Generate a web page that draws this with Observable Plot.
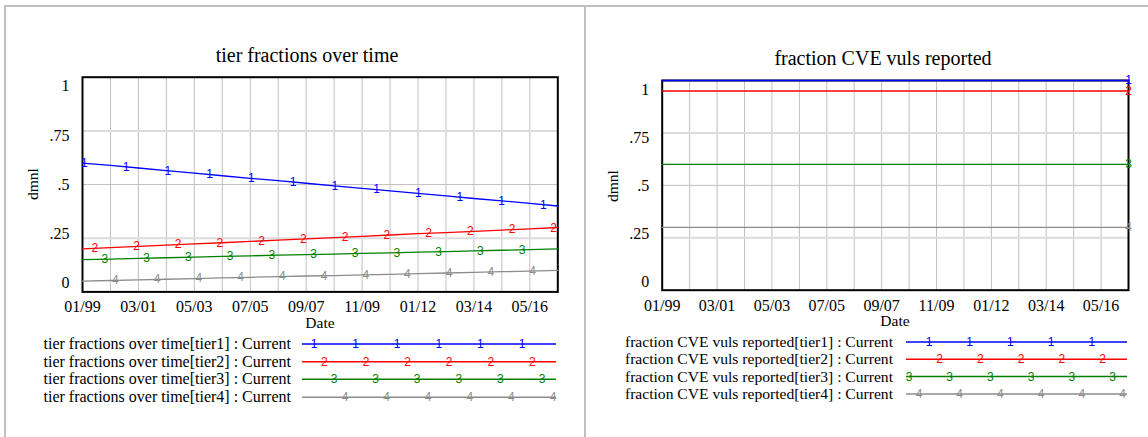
<!DOCTYPE html>
<html>
<head>
<meta charset="utf-8">
<script src="https://cdn.jsdelivr.net/npm/d3@7"></script>
<script src="https://cdn.jsdelivr.net/npm/@observablehq/plot@0.6"></script>
<style>
  html, body { margin: 0; padding: 0; background: #fff; }
  body { width: 1148px; height: 437px; overflow: hidden; position: relative;
         font-family: "Liberation Serif", "Times New Roman", serif; }
  .panel { position: absolute; top: 0; }
  #overlay { position: absolute; left: 0; top: 0; pointer-events: none; }
</style>
</head>
<body>
<div id="left" class="panel" style="left:0px"></div>
<div id="right" class="panel" style="left:580px"></div>
<svg id="overlay" width="1148" height="437"></svg>
<script>
// ---------------- DATA ----------------
// time in months since 01/1999; gridlines every 13 months
const gridMonths = [0, 13, 26, 39, 52, 65, 78, 91, 104, 117, 130, 143, 156, 169, 182, 195, 208, 221];
const xTickMonths = [0, 26, 52, 78, 104, 130, 156, 182, 208];
const xTickLabels = ["01/99", "03/01", "05/03", "07/05", "09/07", "11/09", "01/12", "03/14", "05/16"];
const yTicks = [0, 0.25, 0.5, 0.75, 1];
const yTickLabels = ["0", ".25", ".5", ".75", "1"];

const tierNames = ["tier1", "tier2", "tier3", "tier4"];
const tierColors = ["#0000ff", "#ff0000", "#008000", "#8c8c8c"];
const tierGlyphs = ["1", "2", "3", "4"];

// tier fractions over time (values read at each gridline)
const tierFrac1 = [0.60, 0.589, 0.577, 0.565, 0.553, 0.541, 0.529, 0.518, 0.506, 0.494, 0.482, 0.471, 0.459, 0.447, 0.435, 0.424, 0.412, 0.40];
const tierFrac2 = [0.20, 0.206, 0.212, 0.218, 0.224, 0.229, 0.235, 0.241, 0.247, 0.253, 0.259, 0.265, 0.271, 0.276, 0.282, 0.288, 0.294, 0.30];
const tierFrac3 = [0.15, 0.153, 0.156, 0.159, 0.162, 0.165, 0.168, 0.171, 0.174, 0.176, 0.179, 0.182, 0.185, 0.188, 0.191, 0.194, 0.197, 0.20];
const tierFrac4 = [0.05, 0.053, 0.056, 0.059, 0.062, 0.065, 0.068, 0.071, 0.074, 0.076, 0.079, 0.082, 0.085, 0.088, 0.091, 0.094, 0.097, 0.10];

// fraction CVE vuls reported (constant over time)
const cveFrac1 = [1, 1, 1, 1, 1, 1, 1, 1, 1, 1, 1, 1, 1, 1, 1, 1, 1, 1];
const cveFrac2 = [0.95, 0.95, 0.95, 0.95, 0.95, 0.95, 0.95, 0.95, 0.95, 0.95, 0.95, 0.95, 0.95, 0.95, 0.95, 0.95, 0.95, 0.95];
const cveFrac3 = [0.6, 0.6, 0.6, 0.6, 0.6, 0.6, 0.6, 0.6, 0.6, 0.6, 0.6, 0.6, 0.6, 0.6, 0.6, 0.6, 0.6, 0.6];
const cveFrac4 = [0.3, 0.3, 0.3, 0.3, 0.3, 0.3, 0.3, 0.3, 0.3, 0.3, 0.3, 0.3, 0.3, 0.3, 0.3, 0.3, 0.3, 0.3];

// series-marker placement (months): first marker per tier and spacing
const leftMarkerStart = [0.9, 5.7, 10.4, 15.3];
const leftMarkerStep = 19.4;
const rightMarkerMonths = [221];

// ---------------- CHART ----------------
const xLabelMap = new Map(xTickMonths.map((m, i) => [m, xTickLabels[i]]));
const yLabelMap = new Map(yTicks.map((v, i) => [v, yTickLabels[i]]));

function interp(values, m) {
  const i = Math.min(gridMonths.length - 2, Math.max(0, d3.bisectRight(gridMonths, m) - 1));
  const t = (m - gridMonths[i]) / (gridMonths[i + 1] - gridMonths[i]);
  return values[i] + t * (values[i + 1] - values[i]);
}

function panel({ series, markers, width, marginLeft, marginRight, marginTop, marginBottom }) {
  const marks = [
    Plot.ruleX(gridMonths, { stroke: "#c0c0c0", strokeWidth: 1 }),
    Plot.ruleY([0.5], { stroke: "#c0c0c0", strokeWidth: 1 }),
    Plot.ruleY([0.25, 0.75], { stroke: "#dcdcdc", strokeWidth: 2 }),
    Plot.axisX(xTickMonths, { tickSize: 0, tickPadding: 9, tickFormat: d => xLabelMap.get(d), fontSize: 16, fontFamily: "Liberation Serif" })
  ];
  // Vensim-style y labels: pulled slightly inward from the frame ends
  yTicks.forEach(v => {
    marks.push(Plot.axisY([v], { tickSize: 0, tickPadding: 13, tickFormat: d => yLabelMap.get(d),
      fontSize: 16, fontFamily: "Liberation Serif", dy: 9 - (1 - v) * 17.7 }));
  });
  marks.push(Plot.frame({ stroke: "#000", strokeWidth: 2 }));
  series.forEach((vals, k) => {
    const rows = gridMonths.map((m, i) => ({ m, v: vals[i] }));
    marks.push(Plot.line(rows, { x: "m", y: "v", stroke: tierColors[k], strokeWidth: 1.3 }));
  });
  series.forEach((vals, k) => {
    const mk = markers[k].map(m => ({ m, v: interp(vals, m) }));
    marks.push(Plot.text(mk, { x: "m", y: "v", text: () => tierGlyphs[k], fill: tierColors[k],
      fontSize: 12, fontFamily: "Liberation Sans", textAnchor: "middle" }));
  });
  return Plot.plot({
    width, height: 320, marginLeft, marginRight, marginTop, marginBottom,
    style: { background: "transparent", overflow: "visible", color: "#000", fontFamily: "Liberation Serif" },
    x: { domain: [0, 221], label: null },
    y: { domain: [0, 1], label: null },
    marks
  });
}

const leftMarkers = leftMarkerStart.map(s => {
  const out = [];
  for (let m = s; m <= 221; m += leftMarkerStep) out.push(m);
  return out;
});

document.getElementById("left").appendChild(panel({
  series: [tierFrac1, tierFrac2, tierFrac3, tierFrac4],
  markers: leftMarkers,
  width: 580, marginLeft: 82, marginRight: 22.7, marginTop: 76.7, marginBottom: 28.6
}));
document.getElementById("right").appendChild(panel({
  series: [cveFrac1, cveFrac2, cveFrac3, cveFrac4],
  markers: [rightMarkerMonths, rightMarkerMonths, rightMarkerMonths, rightMarkerMonths],
  width: 568, marginLeft: 81.7, marginRight: 20, marginTop: 80, marginBottom: 30.3
}));

// ---------------- OVERLAY: borders, titles, axis names, legends ----------------
const svg = d3.select("#overlay");
svg.append("line").attr("x1", 4).attr("x2", 1148).attr("y1", 6).attr("y2", 6).attr("stroke", "#c0c0c0").attr("stroke-width", 2);
svg.append("line").attr("x1", 5).attr("x2", 5).attr("y1", 5).attr("y2", 437).attr("stroke", "#c0c0c0").attr("stroke-width", 2);
svg.append("line").attr("x1", 585).attr("x2", 585).attr("y1", 5).attr("y2", 437).attr("stroke", "#c0c0c0").attr("stroke-width", 2);

function txt(x, y, s, size, anchor, rotate) {
  const t = svg.append("text").attr("x", x).attr("y", y).text(s)
    .attr("font-family", "Liberation Serif").attr("font-size", size).attr("fill", "#000")
    .attr("text-anchor", anchor || "middle");
  if (rotate) t.attr("transform", `rotate(-90 ${x} ${y})`).attr("dominant-baseline", "central");
  return t;
}
txt(307, 61.5, "tier fractions over time", 20);
txt(883, 65, "fraction CVE vuls reported", 20);
txt(320, 327.5, "Date", 15.5);
txt(895, 326, "Date", 15.5);
txt(32, 184, "dmnl", 15.5, "middle", true);
txt(612, 186, "dmnl", 15.5, "middle", true);

const leftLegendTitle = "tier fractions over time";
const rightLegendTitle = "fraction CVE vuls reported";

function legend({ title, textRight, fontSize, lineX1, lineX2, rowsY, markerStart, markerStep }) {
  tierNames.forEach((name, k) => {
    const y = rowsY[k];
    txt(textRight, y + 5, `${title}[${name}] : Current`, fontSize, "end");
    svg.append("line").attr("x1", lineX1).attr("x2", lineX2).attr("y1", y).attr("y2", y)
      .attr("stroke", tierColors[k]).attr("stroke-width", 1.5);
    for (let x = markerStart[k]; x <= lineX2 + 0.5; x += markerStep) {
      svg.append("text").attr("x", x).attr("y", y).text(tierGlyphs[k])
        .attr("font-family", "Liberation Sans").attr("font-size", 12).attr("fill", tierColors[k])
        .attr("text-anchor", "middle").attr("dominant-baseline", "central");
    }
  });
}
legend({ title: leftLegendTitle, textRight: 291, fontSize: 16, lineX1: 302, lineX2: 556,
  rowsY: [344, 361.7, 379.3, 397.3], markerStart: [314, 324.4, 334, 345], markerStep: 41.6 });
legend({ title: rightLegendTitle, textRight: 893, fontSize: 15.6, lineX1: 906, lineX2: 1127,
  rowsY: [342, 359.3, 376.6, 393.9], markerStart: [929, 939.7, 909, 919], markerStep: 40.7 });
</script>
</body>
</html>
